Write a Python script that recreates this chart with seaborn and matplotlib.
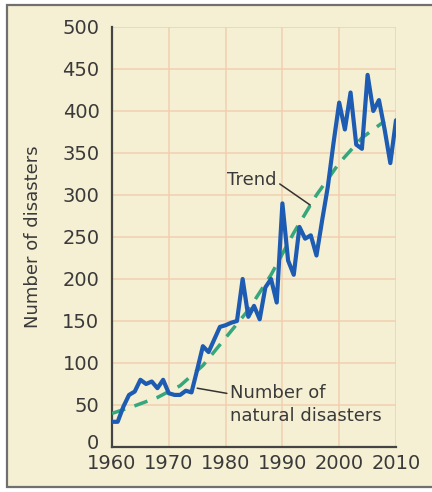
import matplotlib
matplotlib.use("Agg")
import matplotlib.pyplot as plt
import matplotlib.transforms as mtransforms
from matplotlib.patches import Rectangle
import seaborn as sns
import pandas as pd

# Yearly count of natural disasters
years = list(range(1960, 2011))
disasters = [30, 30, 48, 62, 66, 80, 75, 78, 70, 80,
             64, 62, 62, 67, 65, 92, 120, 113, 128, 143,
             145, 148, 150, 200, 155, 168, 152, 190, 200, 172,
             290, 222, 205, 262, 248, 252, 228, 270, 310, 362,
             410, 378, 422, 360, 355, 443, 400, 413, 378, 338,
             389]

# Trend curve
trend_years = [1960, 1964, 1968, 1972, 1976, 1980, 1984, 1988, 1992, 1996, 2000, 2004, 2008]
trend_values = [40, 49, 59, 73, 97, 130, 163, 205, 255, 300, 338, 368, 388]

x_ticks = [1960, 1970, 1980, 1990, 2000, 2010]
y_ticks = [0, 50, 100, 150, 200, 250, 300, 350, 400, 450, 500]

cream = "#F5F0D3"
grid_c = "#F1CFB0"
ink = "#3a3a3a"
blue = "#1D5CB2"
green = "#36A67C"

sns.set_theme(style="white")
plt.rcParams["font.family"] = ["DejaVu Sans"]

fig = plt.figure(figsize=(4.32, 4.92), dpi=100, facecolor="white")
# framed panel background
fig.patches.append(Rectangle((7 / 432, 5 / 492), 1.0, 482 / 492,
                             transform=fig.transFigure, facecolor=cream,
                             edgecolor="#707070", linewidth=1.6, zorder=-10))

ax = fig.add_axes([112 / 432, 45 / 492, 284 / 432, 420 / 492])
ax.set_zorder(5)
ax.set_facecolor(cream)

df = pd.DataFrame({"year": years, "count": disasters})
tdf = pd.DataFrame({"year": trend_years, "value": trend_values})

sns.lineplot(data=tdf, x="year", y="value", ax=ax, color=green,
             linewidth=2.5, zorder=3)
ax.lines[-1].set_dashes([4, 2.8])
sns.lineplot(data=df, x="year", y="count", ax=ax, color=blue,
             linewidth=3.0, zorder=4)

ax.set_xlim(1960, 2010)
ax.set_ylim(0, 500)
ax.set_xticks(x_ticks)
ax.set_yticks(y_ticks)
ax.set_xticklabels([str(v) for v in x_ticks])
ax.set_yticklabels([str(v) for v in y_ticks])

ax.grid(True, color=grid_c, linewidth=1.1, zorder=0)
ax.set_axisbelow(True)
for s in ["top", "right"]:
    ax.spines[s].set_visible(False)
for s in ["left", "bottom"]:
    ax.spines[s].set_color("#444444")
    ax.spines[s].set_linewidth(1.6)

ax.tick_params(axis="both", direction="in", length=5, width=1.4,
               color="#444444", labelsize=14, labelcolor=ink)
ax.tick_params(axis="y", pad=9)
ax.tick_params(axis="x", pad=5)
# nudge the baseline "0" up a little so it clears the year labels
zero = ax.get_yticklabels()[0]
zero.set_transform(zero.get_transform() +
                   mtransforms.ScaledTranslation(0, 4 / 72, fig.dpi_scale_trans))

ax.set_xlabel("")
ax.set_ylabel("Number of disasters", fontsize=13, color=ink)
ax.yaxis.set_label_coords(-0.245, 0.5)

# callout labels
ax.annotate("Trend", xy=(1994.9, 288), xytext=(1984.6, 318),
            fontsize=13, color=ink, ha="center", va="center",
            arrowprops=dict(arrowstyle="-", color="#333333", lw=1.1,
                            shrinkA=0, shrinkB=0,
                            relpos=(1.0, 0.4)))
ax.annotate("Number of\nnatural disasters", xy=(1975.0, 70), xytext=(1980.8, 51),
            fontsize=13, color=ink, ha="left", va="center", linespacing=1.35,
            arrowprops=dict(arrowstyle="-", color="#333333", lw=1.1,
                            shrinkA=0, shrinkB=0, relpos=(0.0, 0.75)))

fig.savefig("out.png", dpi=100, facecolor=fig.get_facecolor())
